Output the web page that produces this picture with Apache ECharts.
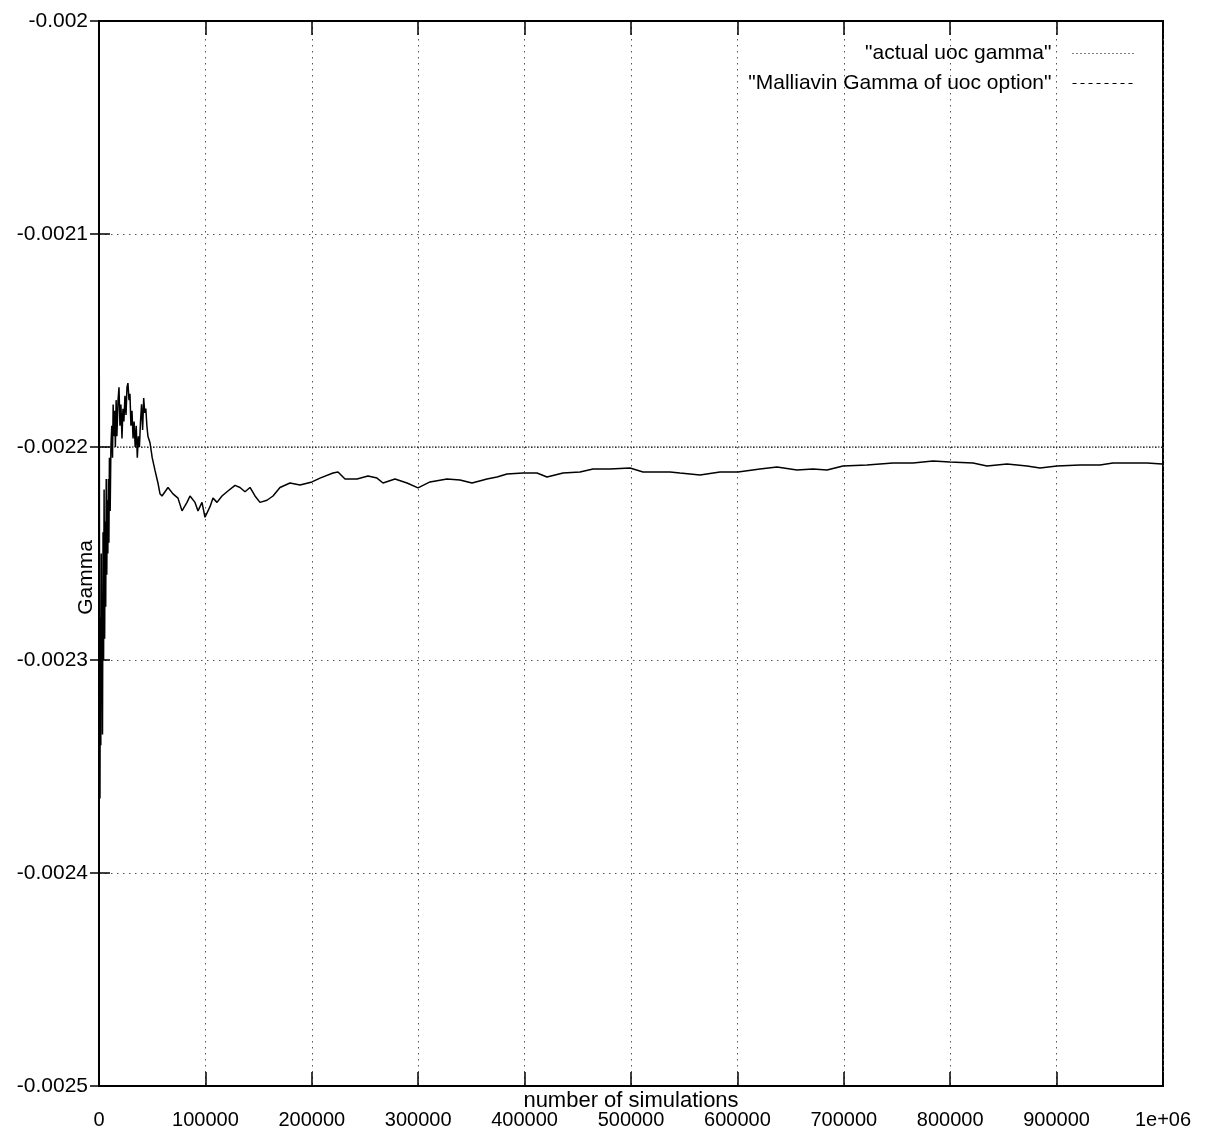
<!DOCTYPE html>
<html>
<head>
<meta charset="utf-8">
<script src="https://cdn.jsdelivr.net/npm/echarts@6/dist/echarts.min.js"></script>
<style>
html,body{margin:0;padding:0;background:#fff;}
#chart{width:1210px;height:1137px;}
</style>
</head>
<body>
<div id="chart"></div>
<script>
// ---- data ----
var seriesNames = ['"actual uoc gamma"', '"Malliavin Gamma of uoc option"'];
var xTicks = [0, 100000, 200000, 300000, 400000, 500000, 600000, 700000, 800000, 900000, 1000000];
var yTicks = [-0.0025, -0.0024, -0.0023, -0.0022, -0.0021, -0.002];
var actualX = [0, 1000000];
var actualGamma = [-0.0022, -0.0022];
var simX = [
  0, 500, 900, 1300, 1700, 2100, 2500, 2900, 3300, 3800, 4300, 4800, 5300, 5800, 6300, 6800, 7300, 7800, 8300, 8800, 9300, 9800,
  10500, 11200, 12000, 12700, 13300, 14000, 14700, 15400, 16100, 16800, 17900, 18800, 19700, 20600, 21600, 22500, 23400, 24400,
  25400, 26300, 27200, 28200, 29100, 30000, 31000, 32000, 33000, 34000, 35000, 36000, 37000, 38000, 39000, 40000, 41000, 42000,
  43000, 44000, 45000, 46000, 47930, 50000, 52630, 55450, 57330, 59210, 60150, 64850, 69550, 74250, 78010, 82710, 85530, 90230,
  93050, 96800, 99620, 104320, 107140, 110900, 115600, 120300, 127820, 132520, 137220, 141920, 146620, 151320, 157890, 163530,
  170110, 179510, 188910, 200190, 207710, 219930, 224630, 231210, 242480, 252820, 261280, 266920, 278200, 289480, 299820,
  311100, 327070, 339290, 350570, 364660, 374060, 383460, 398500, 411660, 421050, 436090, 452070, 464290, 480260, 499060,
  511280, 527260, 536650, 546050, 564850, 583650, 600570, 621240, 637220, 656020, 671050, 684210, 699250, 721800, 746240,
  765040, 783840, 799810, 821430, 834590, 853380, 872180, 884400, 900380, 922000, 940790, 953010, 968990, 984970, 999060
];
var simGamma = [
  -0.002010, -0.002300, -0.002365, -0.002280, -0.002340, -0.002250, -0.002320, -0.002270, -0.002335, -0.002240, -0.002300,
  -0.002220, -0.002290, -0.002235, -0.002275, -0.002215, -0.002260, -0.002225, -0.002250, -0.002215, -0.002245, -0.002205,
  -0.002230, -0.002200, -0.002190, -0.002205, -0.002180, -0.002195, -0.002183, -0.002200, -0.002178, -0.002195, -0.002178,
  -0.002172, -0.002190, -0.002180, -0.002196, -0.002182, -0.002188, -0.002176, -0.002185, -0.002172, -0.002170, -0.002178,
  -0.002175, -0.002190, -0.002183, -0.002196, -0.002188, -0.002200, -0.002190, -0.002205, -0.002195, -0.002200, -0.002188,
  -0.002180, -0.002192, -0.002177, -0.002184, -0.002182, -0.002190, -0.002195, -0.002198, -0.002205, -0.002211, -0.002217,
  -0.002222, -0.002223, -0.002223, -0.002219, -0.002222, -0.002224, -0.002230, -0.002226, -0.002223, -0.002226, -0.002230,
  -0.002226, -0.002233, -0.002228, -0.002224, -0.002226, -0.002223, -0.002221, -0.002218, -0.002219, -0.002221, -0.002219,
  -0.002223, -0.002226, -0.002225, -0.002223, -0.002219, -0.0022169, -0.0022178, -0.0022164, -0.0022146, -0.0022122,
  -0.0022117, -0.0022150, -0.0022150, -0.0022136, -0.0022146, -0.0022169, -0.0022150, -0.0022169, -0.0022192, -0.0022164,
  -0.0022150, -0.0022155, -0.0022169, -0.0022150, -0.0022141, -0.0022127, -0.0022122, -0.0022122, -0.0022141, -0.0022122,
  -0.0022117, -0.0022103, -0.0022103, -0.0022099, -0.0022117, -0.0022117, -0.0022117, -0.0022122, -0.0022131, -0.0022117,
  -0.0022117, -0.0022103, -0.0022094, -0.0022108, -0.0022103, -0.0022108, -0.0022089, -0.0022084, -0.0022075, -0.0022075,
  -0.0022066, -0.0022070, -0.0022075, -0.0022089, -0.0022080, -0.0022089, -0.0022099, -0.0022089, -0.0022084, -0.0022084,
  -0.0022075, -0.0022075, -0.0022075, -0.0022080
];

function zip(xs, ys) { return xs.map(function (x, i) { return [x, ys[i]]; }); }

var FONT = "'Liberation Sans', Arial, Helvetica, sans-serif";
var txt = { color: '#000', fontFamily: FONT, fontSize: 21 };

function yFmt(v) { return String(Number(v.toFixed(4))); }
function xFmt(v) { return v >= 1000000 ? '1e+06' : String(Math.round(v)); }

var chart = echarts.init(document.getElementById('chart'), null, { renderer: 'canvas' });
var xBase = { type: 'value', min: xTicks[0], max: xTicks[xTicks.length - 1], interval: 100000 };
var yBase = { type: 'value', min: yTicks[0], max: yTicks[yTicks.length - 1], interval: 0.0001 };

chart.setOption({
  animation: false,
  backgroundColor: '#fff',
  color: ['#000', '#000'],
  grid: {
    left: 99, right: 47, top: 21, bottom: 51, containLabel: false, outerBoundsMode: 'none',
    show: true, borderColor: '#000', borderWidth: 2, backgroundColor: 'transparent'
  },
  legend: {
    show: true, orient: 'vertical', right: 73, top: 43, align: 'right', padding: 0,
    itemWidth: 64, itemHeight: 16, itemGap: 9,
    textStyle: Object.assign({}, txt, { padding: [0, 16, 0, 0] }),
    data: [
      { name: seriesNames[0], itemStyle: { opacity: 0 }, lineStyle: { type: [1, 3], width: 1, color: '#000' } },
      { name: seriesNames[1], itemStyle: { opacity: 0 }, lineStyle: { type: [4, 4], width: 1, color: '#000' } }
    ]
  },
  xAxis: [
    Object.assign({}, xBase, {
      position: 'bottom',
      name: 'number of simulations', nameLocation: 'middle', nameGap: 4, nameMoveOverlap: false,
      nameTextStyle: Object.assign({}, txt, { fontSize: 22 }),
      axisLine: { show: true, lineStyle: { color: '#000', width: 2 } },
      axisTick: { show: true, inside: true, length: 14, lineStyle: { color: '#000', width: 1.5 } },
      axisLabel: Object.assign({}, txt, { fontSize: 20, margin: 24, formatter: xFmt }),
      splitLine: { show: true, lineStyle: { color: '#555', type: [1.5, 4.5], width: 1 } }
    }),
    Object.assign({}, xBase, {
      position: 'top',
      axisLine: { show: true, lineStyle: { color: '#000', width: 2 } },
      axisTick: { show: true, inside: true, length: 14, lineStyle: { color: '#000', width: 1.5 } },
      axisLabel: { show: false },
      splitLine: { show: false }
    })
  ],
  yAxis: [
    Object.assign({}, yBase, {
      position: 'left',
      name: 'Gamma', nameLocation: 'middle', nameGap: 2, nameRotate: 90, nameMoveOverlap: false,
      nameTextStyle: Object.assign({}, txt, { padding: [0, 48, 0, 0] }),
      axisLine: { show: true, lineStyle: { color: '#000', width: 2 } },
      axisTick: { show: true, inside: true, length: 11, lineStyle: { color: '#000', width: 1.5 } },
      axisLabel: Object.assign({}, txt, { margin: 11, formatter: yFmt }),
      splitLine: { show: true, lineStyle: { color: '#555', type: [1.5, 4.5], width: 1 } }
    }),
    Object.assign({}, yBase, {
      position: 'left', offset: 0,
      axisLine: { show: false },
      axisTick: { show: true, inside: false, length: 9, lineStyle: { color: '#000', width: 1.5 } },
      axisLabel: { show: false },
      splitLine: { show: false }
    })
  ],
  series: [
    {
      name: seriesNames[0], type: 'line', xAxisIndex: 0, yAxisIndex: 0,
      data: zip(actualX, actualGamma), symbol: 'none',
      lineStyle: { color: '#000', width: 1.2, type: [1.5, 1.5] }, z: 3
    },
    {
      name: seriesNames[1], type: 'line', xAxisIndex: 0, yAxisIndex: 0,
      data: zip(simX, simGamma), symbol: 'none',
      lineStyle: { color: '#000', width: 1.5, type: 'solid' }, z: 4
    }
  ]
});
</script>
</body>
</html>
